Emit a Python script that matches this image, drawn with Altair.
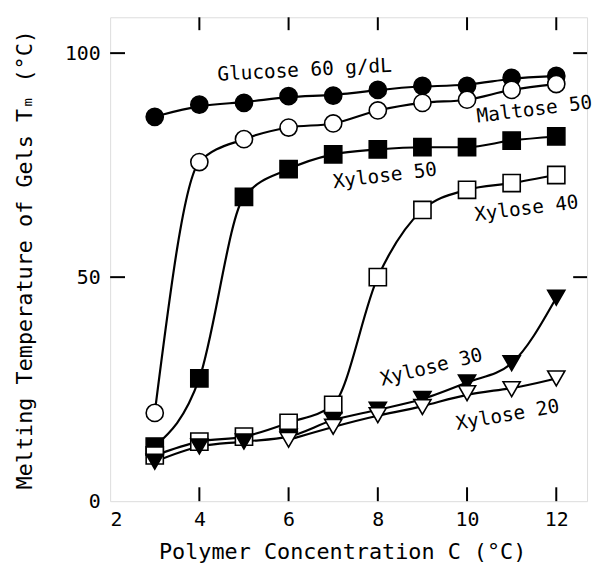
import altair as alt
import pandas as pd

# ---- data ----
conc = [3, 4, 5, 6, 7, 8, 9, 10, 11, 12]
conc_xylose20 = [6, 7, 8, 9, 10, 11, 12]

glucose60 = [85.8, 88.5, 88.9, 90.4, 90.5, 91.8, 92.7, 92.7, 94.5, 94.9]
maltose50 = [19.7, 75.7, 80.8, 83.4, 84.3, 87.2, 88.9, 89.6, 91.8, 93.1]
xylose50 = [12.2, 27.4, 67.9, 74.1, 77.4, 78.5, 79.0, 79.0, 80.5, 81.4]
xylose40 = [10.2, 13.3, 14.4, 17.5, 21.5, 50.0, 65.0, 69.5, 71.0, 72.8]
xylose30 = [8.8, 12.2, 13.3, 14.4, 18.1, 20.4, 22.8, 26.5, 30.8, 45.4]
xylose20 = [13.7, 16.6, 19.2, 21.0, 24.1, 25.0, 27.4]

series_names = ["Glucose 60", "Maltose 50", "Xylose 50", "Xylose 40", "Xylose 30", "Xylose 20"]
series_x = [conc, conc, conc, conc, conc, conc_xylose20]
series_y = [glucose60, maltose50, xylose50, xylose40, xylose30, xylose20]

label_text = ["Glucose 60 g/dL", "Maltose 50", "Xylose 50", "Xylose 40", "Xylose 30", "Xylose 20"]
label_x = [6.36, 11.51, 8.16, 11.33, 9.2, 10.91]
label_y = [96.2, 87.4, 72.6, 65.3, 29.9, 19.2]

x_tick_values = [4, 6, 8, 10, 12]
y_tick_values = [50, 100]
x_label_values = [2, 4, 6, 8, 10, 12]
y_label_values = [0, 50, 100]

# ---- styles ----
shapes = ["circle", "circle", "square", "square", "triangle-down", "triangle-down"]
fills = ["black", "white", "black", "white", "black", "white"]
curves = ["basis", "monotone", "monotone", "monotone", "monotone", "basis"]
label_angles = [357, 353, 353, 353, 346, 350]

FONT = "DejaVu Sans Mono"
W, H = 481, 488

rows = []
for name, xs, ys in zip(series_names, series_x, series_y):
    for xv, yv in zip(xs, ys):
        rows.append({"C": xv, "Tm": yv, "series": name})
df = pd.DataFrame(rows)

xscale = alt.Scale(domain=[2, 12.69], nice=False, zero=False)
yscale = alt.Scale(domain=[0, 108], nice=False, zero=True)

x_enc = alt.X(
    "C:Q",
    scale=xscale,
    axis=alt.Axis(
        values=x_label_values, tickSize=0, domain=False, grid=False,
        labelFont=FONT, labelFontSize=20, labelColor="black", labelPadding=9,
        title="Polymer Concentration C (°C)", titleFont=FONT, titleFontSize=22,
        titleFontWeight="normal", titleColor="black", titlePadding=12, titleX=234,
    ),
)
y_enc = alt.Y(
    "Tm:Q",
    scale=yscale,
    axis=alt.Axis(
        values=y_label_values, tickSize=0, domain=False, grid=False,
        labelFont=FONT, labelFontSize=20, labelColor="black", labelPadding=10,
        title="Melting Temperature of Gels Tₘ (°C)", titleFont=FONT, titleFontSize=22,
        titleFontWeight="normal", titleColor="black", titlePadding=28,
    ),
)

line_layers = []
for i, (name, curve) in enumerate(zip(series_names, curves)):
    sub = df[df["series"] == name]
    enc_x = x_enc if i == 0 else alt.X("C:Q")
    enc_y = y_enc if i == 0 else alt.Y("Tm:Q")
    line_layers.append(
        alt.Chart(sub).mark_line(interpolate=curve, color="black", strokeWidth=2.2)
        .encode(x=enc_x, y=enc_y)
    )

points = alt.Chart(df).mark_point(filled=True, size=300, stroke="black", strokeWidth=1.6, opacity=1).encode(
    x="C:Q",
    y="Tm:Q",
    shape=alt.Shape("series:N", scale=alt.Scale(domain=series_names, range=shapes), legend=None),
    fill=alt.Fill("series:N", scale=alt.Scale(domain=series_names, range=fills), legend=None),
)

texts = []
for t, lx, ly, ang in zip(label_text, label_x, label_y, label_angles):
    texts.append(
        alt.Chart(pd.DataFrame({"C": [lx], "Tm": [ly], "label": [t]}))
        .mark_text(font=FONT, fontSize=19.5, color="black", angle=ang, align="center", baseline="middle")
        .encode(x="C:Q", y="Tm:Q", text="label:N")
    )

xt = pd.DataFrame({"C": x_tick_values})
yt = pd.DataFrame({"Tm": y_tick_values})
tick_bottom = alt.Chart(xt).mark_rule(color="black", strokeWidth=2).encode(
    x="C:Q", y=alt.value(H), y2=alt.value(H - 14))
tick_top = alt.Chart(xt).mark_rule(color="black", strokeWidth=2).encode(
    x="C:Q", y=alt.value(0), y2=alt.value(13))
tick_left = alt.Chart(yt).mark_rule(color="black", strokeWidth=2).encode(
    y="Tm:Q", x=alt.value(0), x2=alt.value(15))
tick_right = alt.Chart(yt).mark_rule(color="black", strokeWidth=2).encode(
    y="Tm:Q", x=alt.value(W - 14), x2=alt.value(W))

chart = alt.layer(
    *line_layers, points, *texts, tick_bottom, tick_top, tick_left, tick_right
).properties(
    width=W, height=H,
    padding={"left": 5, "top": 6, "right": 0, "bottom": 0},
).configure_view(
    stroke="black", strokeWidth=2.5
).configure(
    background="white", font=FONT
)

chart.save("out.html", embed_options={"renderer": "svg", "actions": False})
